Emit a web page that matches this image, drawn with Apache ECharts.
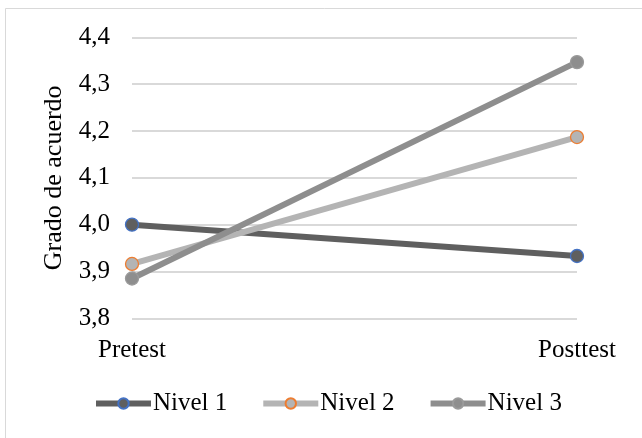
<!DOCTYPE html>
<html>
<head>
<meta charset="utf-8">
<script src="https://cdn.jsdelivr.net/npm/echarts@6/dist/echarts.min.js"></script>
<style>
  html, body { margin: 0; padding: 0; background: #fff; }
  #chart { width: 642px; height: 438px; }
</style>
</head>
<body>
<div id="chart"></div>
<script>
// Mean agreement score per level, before and after
const categories = ['Pretest', 'Posttest'];
const nivel1 = [4.0, 3.933];
const nivel2 = [3.916, 4.187];
const nivel3 = [3.885, 4.347];
const seriesNames = ['Nivel 1', 'Nivel 2', 'Nivel 3'];

const FONT = '"Liberation Serif", "Times New Roman", serif';

const chart = echarts.init(document.getElementById('chart'));

function lineSeries(name, data, lineColor, markerFill, markerBorder) {
  return {
    name: name,
    type: 'line',
    data: data,
    symbol: 'circle',
    symbolSize: 13,
    showSymbol: true,
    lineStyle: { color: lineColor, width: 6 },
    itemStyle: { color: markerFill, borderColor: markerBorder, borderWidth: 1.3 },
    emphasis: { disabled: true },
    z: 3
  };
}

chart.setOption({
  animation: false,
  backgroundColor: '#ffffff',
  graphic: [{
    type: 'rect',
    shape: { x: 5.5, y: 8.5, width: 640, height: 440 },
    style: { fill: 'none', stroke: '#d9d9d9', lineWidth: 1 },
    silent: true
  }],
  grid: {
    left: 132, right: 65, top: 37.3, bottom: 119.7,
    outerBoundsMode: 'none'
  },
  legend: {
    bottom: 17,
    left: 88,
    itemWidth: 55,
    itemHeight: 13,
    itemGap: 33,
    lineStyle: { width: 6 },
    textStyle: { fontFamily: FONT, fontSize: 25, color: '#000', padding: [0, 0, 0, -3] },
    data: seriesNames
  },
  xAxis: {
    type: 'category',
    data: categories,
    boundaryGap: false,
    axisLine: { show: false },
    axisTick: { show: false },
    axisLabel: { fontFamily: FONT, fontSize: 25, color: '#000', margin: 20 }
  },
  yAxis: {
    type: 'value',
    min: 3.8,
    max: 4.4,
    interval: 0.1,
    name: 'Grado de acuerdo',
    nameLocation: 'middle',
    nameGap: 65,
    nameTextStyle: { fontFamily: FONT, fontSize: 26, color: '#000' },
    axisLine: { show: false },
    axisTick: { show: false },
    splitLine: { lineStyle: { color: '#d9d9d9', width: 2 } },
    axisLabel: {
      fontFamily: FONT, fontSize: 25, color: '#000', margin: 22,
      formatter: v => v.toFixed(1).replace('.', ',')
    }
  },
  series: [
    lineSeries(seriesNames[0], nivel1, '#5f5f5f', '#5f5f5f', '#4472c4'),
    lineSeries(seriesNames[1], nivel2, '#b4b4b4', '#b4b4b4', '#ed7d31'),
    lineSeries(seriesNames[2], nivel3, '#8e8e8e', '#8e8e8e', '#9a9a9a')
  ]
});
</script>
</body>
</html>
